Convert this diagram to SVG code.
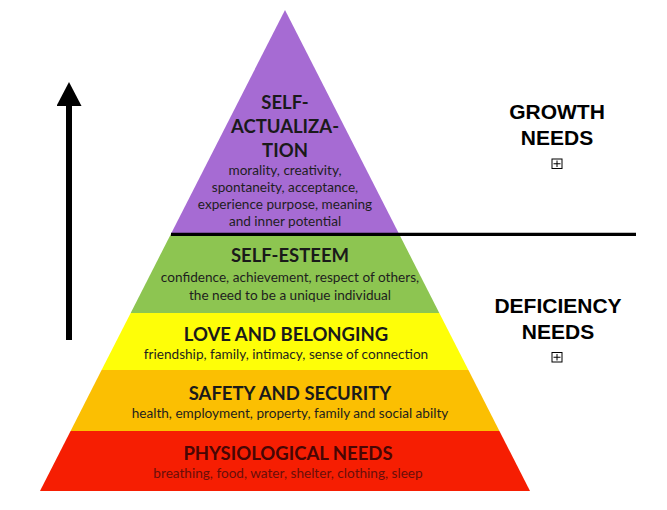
<svg xmlns="http://www.w3.org/2000/svg" width="667" height="510" viewBox="0 0 667 510">
  <style>
    .hd { font-family: Lato, "Liberation Sans", sans-serif; font-weight: 700; font-size: 18.5px; fill: #1a1a1a; text-anchor: middle; }
    .sb { font-family: Lato, "Liberation Sans", sans-serif; font-weight: 400; font-size: 13.6px; fill: #1e1e1e; text-anchor: middle; }
    .rd { fill: #480604; }
    .rs { fill: #6a0e0a; }
    .lb { font-family: "Liberation Sans", Arial, sans-serif; font-weight: 700; font-size: 21px; fill: #000; text-anchor: middle; }
    .box { fill: #fff; stroke: #000; stroke-width: 1; }
    .plus { stroke: #000; stroke-width: 1; }
  </style>
  <defs>
    <marker id="ah" markerUnits="userSpaceOnUse" viewBox="0 0 24 25" markerWidth="24" markerHeight="25" refX="0" refY="12.5" orient="auto">
      <path d="M0,0 L24,12.5 L0,25 z" fill="#000"/>
    </marker>
  </defs>
  <rect width="667" height="510" fill="#fff"/>

  <g id="self-actualization">
    <polygon points="285,10 399.1,234 170.9,234" fill="#a66bd3"/>
    <text class="hd" x="285" y="109">SELF-</text>
    <text class="hd" x="285" y="133">ACTUALIZA-</text>
    <text class="hd" x="285" y="157">TION</text>
    <text class="sb" x="285" y="175">morality, creativity,</text>
    <text class="sb" x="285" y="192">spontaneity, acceptance,</text>
    <text class="sb" x="285" y="209">experience purpose, meaning</text>
    <text class="sb" x="285" y="226">and inner potential</text>
  </g>

  <g id="self-esteem">
    <polygon points="170.9,234 399.1,234 439.3,313 130.7,313" fill="#8dc551"/>
    <text class="hd" x="290" y="262">SELF-ESTEEM</text>
    <text class="sb" x="290" y="282">confidence, achievement, respect of others,</text>
    <text class="sb" x="290" y="300">the need to be a unique individual</text>
  </g>

  <g id="love-belonging">
    <polygon points="130.7,313 439.3,313 468.4,370 101.6,370" fill="#fefe08"/>
    <text class="hd" x="286" y="341">LOVE AND BELONGING</text>
    <text class="sb" x="286" y="359">friendship, family, intimacy, sense of connection</text>
  </g>

  <g id="safety-security">
    <polygon points="101.6,370 468.4,370 499.4,431 70.6,431" fill="#fbbf02"/>
    <text class="hd" x="290" y="400">SAFETY AND SECURITY</text>
    <text class="sb" x="290" y="418">health, employment, property, family and social abilty</text>
  </g>

  <g id="physiological">
    <polygon points="70.6,431 499.4,431 530,491 40,491" fill="#f61e02"/>
    <text class="hd rd" x="288" y="460">PHYSIOLOGICAL NEEDS</text>
    <text class="sb rs" x="288" y="478">breathing, food, water, shelter, clothing, sleep</text>
  </g>

  <g id="growth-needs">
    <text class="lb" x="557" y="119">GROWTH</text>
    <text class="lb" x="557" y="145">NEEDS</text>
    <rect class="box" x="552" y="159" width="10" height="9.5"/>
    <line class="plus" x1="553.5" y1="163.75" x2="560.5" y2="163.75"/>
    <line class="plus" x1="557" y1="160.5" x2="557" y2="167"/>
  </g>

  <g id="deficiency-needs">
    <text class="lb" x="558" y="313">DEFICIENCY</text>
    <text class="lb" x="558" y="339">NEEDS</text>
    <rect class="box" x="552" y="352.5" width="10" height="9.5"/>
    <line class="plus" x1="553.5" y1="357.25" x2="560.5" y2="357.25"/>
    <line class="plus" x1="557" y1="354" x2="557" y2="360.5"/>
  </g>

  <g id="connectors">
    <line x1="171" y1="234.3" x2="636" y2="234.3" stroke="#000" stroke-width="3.2"/>
    <line x1="69" y1="340" x2="69" y2="106" stroke="#000" stroke-width="6" marker-end="url(#ah)"/>
  </g>
</svg>
